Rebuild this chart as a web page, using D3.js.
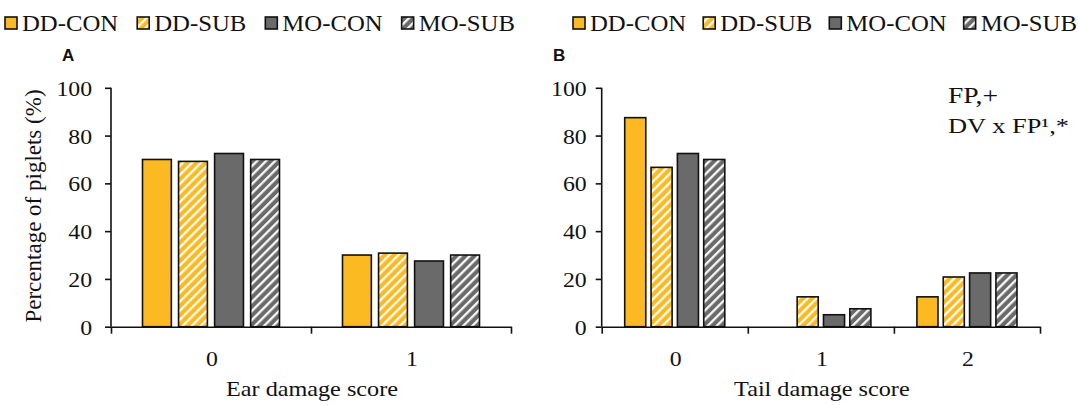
<!DOCTYPE html>
<html>
<head>
<meta charset="utf-8">
<script src="https://cdnjs.cloudflare.com/ajax/libs/d3/7.8.5/d3.min.js"></script>
<style>
  html, body { margin: 0; padding: 0; background: #fff; }
  svg { display: block; }
  text { font-family: "Liberation Serif", "Times New Roman", serif; fill: #111; }
  .panel-tag { font-family: "Liberation Sans", Arial, sans-serif; font-weight: bold; }
</style>
</head>
<body>
<svg id="chart" width="1078" height="406"></svg>
<script>
// Treatment groups
const seriesNames = ["DD-CON", "DD-SUB", "MO-CON", "MO-SUB"];

// Panel A: ear damage score distribution (% of piglets)
const earScores = ["0", "1"];
const ddConEar = [70, 30];
const ddSubEar = [69.2, 30.8];
const moConEar = [72.5, 27.5];
const moSubEar = [70, 30];

// Panel B: tail damage score distribution (% of piglets)
const tailScores = ["0", "1", "2"];
const ddConTail = [87.5, 0, 12.5];
const ddSubTail = [66.7, 12.5, 20.8];
const moConTail = [72.5, 5, 22.5];
const moSubTail = [70, 7.5, 22.5];

const yTicks = [0, 20, 40, 60, 80, 100];

const YELLOW = "#FBBA22";
const GREY = "#6A6A6A";
const SX = 1.1; // horizontal widening of the serif lettering

const svg = d3.select("#chart");
const defs = svg.append("defs");

// diagonal white hatching over a base colour
function hatch(id, base) {
  const p = defs.append("pattern")
    .attr("id", id)
    .attr("patternUnits", "userSpaceOnUse")
    .attr("width", 6.4).attr("height", 6.4)
    .attr("patternTransform", "rotate(45)");
  p.append("rect").attr("width", 6.4).attr("height", 6.4).attr("fill", base);
  p.append("line").attr("x1", 1.2).attr("x2", 1.2).attr("y1", 0).attr("y2", 6.4)
    .attr("stroke", "#fff").attr("stroke-width", 2.2);
}
hatch("hatch-yellow", YELLOW);
hatch("hatch-grey", GREY);

const fills = {
  "DD-CON": YELLOW,
  "DD-SUB": "url(#hatch-yellow)",
  "MO-CON": GREY,
  "MO-SUB": "url(#hatch-grey)"
};

function stext(g, x, y, str, size, anchor, sx) {
  return g.append("text")
    .attr("transform", `translate(${x},${y}) scale(${sx || SX},1)`)
    .attr("text-anchor", anchor || "start")
    .style("font-size", size + "px")
    .text(str);
}

function legend(x0, yMid, gap) {
  const g = svg.append("g");
  let x = x0;
  seriesNames.forEach(name => {
    g.append("rect")
      .attr("x", x).attr("y", yMid - 6)
      .attr("width", 12).attr("height", 12)
      .attr("fill", fills[name])
      .attr("stroke", "#111").attr("stroke-width", 1.6);
    const t = stext(g, x + 17, yMid + 7.5, name, 22.5, "start");
    const w = t.node().getComputedTextLength() * SX;
    x += 17 + w + gap;
  });
}

function panel(opt) {
  const g = svg.append("g");
  const y = d3.scaleLinear().domain([0, 100]).range([326.7, 87.8]);
  const x0 = d3.scaleBand().domain(opt.categories)
    .range([opt.left, opt.right])
    .paddingInner(0.315).paddingOuter(0.1575);
  const x1 = d3.scaleBand().domain(seriesNames)
    .range([0, x0.bandwidth()])
    .paddingInner(0.2).paddingOuter(0);

  // bars
  opt.categories.forEach((c, ci) => {
    seriesNames.forEach((s, si) => {
      const v = opt.values[si][ci];
      if (v <= 0) return;
      g.append("rect")
        .attr("x", x0(c) + x1(s))
        .attr("y", y(v))
        .attr("width", x1.bandwidth())
        .attr("height", y(0) - y(v))
        .attr("fill", fills[s])
        .attr("stroke", "#111")
        .attr("stroke-width", 1.6);
    });
  });

  // y axis
  const yAxis = d3.axisLeft(y).tickValues(yTicks).tickSize(6).tickFormat("");
  const ya = g.append("g").attr("transform", `translate(${opt.left},0)`).call(yAxis);
  ya.select(".domain").attr("stroke", "#111").attr("stroke-width", 1.6)
    .attr("d", `M0,${y(100)}V${y(0)}`);
  ya.selectAll(".tick line").attr("stroke", "#111").attr("stroke-width", 1.6);
  yTicks.forEach(t => {
    stext(g, opt.left - opt.labelGap, y(t) + 8, String(t), 22, "end", 1.08);
  });

  // x axis with boundary ticks between score categories
  const step = x0.step();
  const bounds = d3.range(opt.categories.length + 1).map(i => opt.left + i * step);
  const bScale = d3.scaleLinear().domain([opt.left, opt.right]).range([opt.left, opt.right]);
  const xAxis = d3.axisBottom(bScale).tickValues(bounds).tickSize(7).tickFormat("").tickSizeOuter(0);
  const xa = g.append("g").attr("transform", `translate(0,${y(0)})`).call(xAxis);
  xa.select(".domain").attr("stroke", "#111").attr("stroke-width", 1.6);
  xa.selectAll(".tick line").attr("stroke", "#111").attr("stroke-width", 1.6);

  opt.categories.forEach(c => {
    stext(g, x0(c) + x0.bandwidth() / 2 + 1, 366, c, 22, "middle", 1.08);
  });
  stext(g, (opt.left + opt.right) / 2 + 1, 396, opt.title, 22, "middle");

  g.append("text").attr("class", "panel-tag")
    .attr("x", opt.tagX).attr("y", 61)
    .style("font-size", "17px").text(opt.tag);
}

legend(5, 23, 19);
legend(573, 23, 17);

panel({
  left: 111, right: 511, labelGap: 19,
  categories: earScores,
  values: [ddConEar, ddSubEar, moConEar, moSubEar],
  title: "Ear damage score", tag: "A", tagX: 62
});

panel({
  left: 601.7, right: 1040, labelGap: 15,
  categories: tailScores,
  values: [ddConTail, ddSubTail, moConTail, moSubTail],
  title: "Tail damage score", tag: "B", tagX: 553
});

// y-axis title (panel A only)
svg.append("text")
  .attr("transform", "translate(41,206) rotate(-90)")
  .attr("text-anchor", "middle")
  .style("font-size", "23px")
  .text("Percentage of piglets (%)");

// significance notes for panel B
const note = svg.append("g");
stext(note, 948, 103, "FP,+", 23, "start", 1.2);
stext(note, 948, 133, "DV x FP\u00B9,*", 22, "start", 1.2);
</script>
</body>
</html>
